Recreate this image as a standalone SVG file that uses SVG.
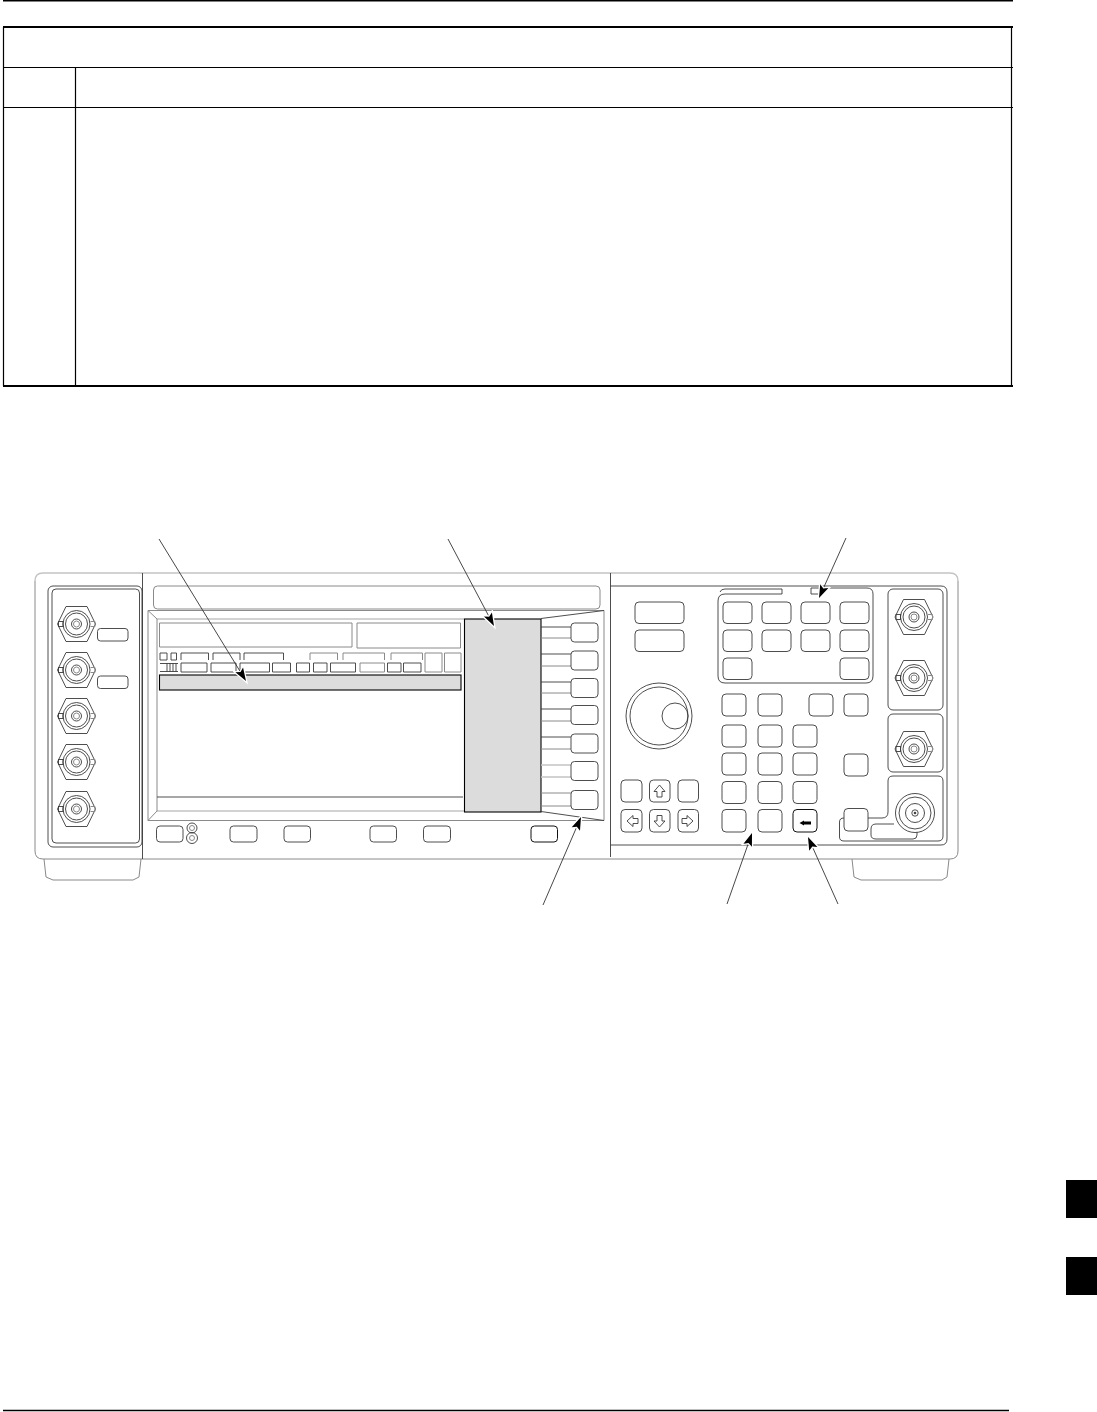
<svg xmlns="http://www.w3.org/2000/svg" xmlns:xlink="http://www.w3.org/1999/xlink" width="1097" height="1412" viewBox="0 0 1097 1412">
<style>
.t{stroke:#000;fill:none}
.l{fill:none;stroke:#3a3a3a;stroke-width:.9}
.g{fill:none;stroke:#8a8a8a;stroke-width:1}
.f{fill:none;stroke:#c4c4c4;stroke-width:1.4}
.k{fill:#fff;stroke:#3a3a3a;stroke-width:.9}
.s{fill:#dcdcdc;stroke:#000;stroke-width:1.1}
.a{fill:none;stroke:#333;stroke-width:.9;marker-end:url(#ah)}
</style>
<defs>
<marker id="ah" markerUnits="userSpaceOnUse" markerWidth="20" markerHeight="16" refX="15" refY="8" orient="auto">
<path d="M2 3.500L15 8L2 12.500L4.500 8Z" fill="#000" stroke="#fff" stroke-width="2.600" paint-order="stroke"/>
</marker>
<g id="bnc">
<path class="l" d="M-19 0L-10.500-17.500H10.500L19 0L10.500 17.500H-10.500Z"/>
<rect class="l" x="-18" y="-2.500" width="4.500" height="5"/>
<path class="g" d="M14-2.500H18.500V2.500H14"/>
<circle class="l" r="13.500"/><circle class="l" r="11"/><circle class="l" r="5"/><circle class="g" r="3"/>
</g>
</defs>
<rect width="1097" height="1412" fill="#fff"/>
<g id="page-table">
<path class="t" stroke-width="2" d="M3 0.500H1013"/>
<path class="t" stroke-width="2" d="M3 27H1013"/>
<path class="t" stroke-width="1.200" d="M3.500 27V386M1011.500 27V386M3 67.500H1013M3 107.500H1013M75.500 67V386"/>
<path class="t" stroke-width="2" d="M3 386H1013"/>
<path class="t" stroke-width="1.600" d="M3 1410.500H1009"/>
</g>
<g id="tabs">
<rect x="1066" y="1180" width="31" height="38" fill="#000"/>
<rect x="1066" y="1257" width="31" height="38" fill="#000"/>
</g>
<g id="instrument-body">
<path class="f" d="M142 573H950Q958 573 958 581"/>
<path class="f" d="M142 573H43Q35 573 35 581"/>
<path class="g" d="M35 581V851Q35 859 43 859H950Q958 859 958 851V581"/>
<path class="l" d="M142.500 573V859M610.500 573V857"/>
<path class="g" d="M44 859L46 877L53 880H133L139 877L141 859"/>
<path class="g" d="M852 859L854 877L861 880H942L947 877L949 859"/>
</g>
<g id="left-connector-panel">
<rect class="l" x="48" y="586" width="94" height="261" rx="5" />
<rect class="l" x="52" y="589" width="87.500" height="254" rx="4"/>
<use xlink:href="#bnc" href="#bnc" x="76.500" y="624"/>
<use xlink:href="#bnc" href="#bnc" x="76.500" y="670"/>
<use xlink:href="#bnc" href="#bnc" x="76.500" y="716"/>
<use xlink:href="#bnc" href="#bnc" x="76.500" y="762"/>
<use xlink:href="#bnc" href="#bnc" x="76.500" y="809"/>
<rect class="k" x="97.500" y="628.500" width="30.500" height="12.500" rx="3"/>
<rect class="k" x="97.500" y="676" width="30.500" height="12.500" rx="3"/>
</g>
<g id="display">
<rect class="g" x="153.500" y="586" width="446.500" height="23" rx="4"/>
<path class="g" d="M148 610.500H604V820.500H148Z"/>
<path class="f" d="M157 619H464M157 811H464"/>
<path class="g" d="M157 619V811M148 610.500L157 619M148 820.500L157 811"/>
<path class="g" d="M159.500 623H352V647H159.500ZM357 623H460.500V648H357Z"/>
<path class="l" d="M160 660V653H167V660ZM171 660V653H176.500V660ZM181 660V653H208.500V660M213 660V653H240V660M244 660V653H283.500V660"/>
<path class="g" d="M310 660V653H337.500V660M343 660V653H384.500V660M391 660V653H422.500V660M425 672V653H442V672ZM444.500 672V653H461V672Z"/>
<path class="l" d="M160 663.500H178M160 671.500H178M167 663.500V671.500M170 663.500V671.500M173 663.500V671.500M176 663.500V671.500"/>
<path class="l" d="M181 663H207V672H181ZM211 663H236V672H211ZM240 663H269.500V672H240ZM272.500 663H290.500V672H272.500ZM296.500 663H309.500V672H296.500ZM313.500 663H327V672H313.500ZM330.500 663H355.500V672H330.500ZM387.500 663H401V672H387.500ZM403.500 663H421V672H403.500Z"/>
<path class="g" d="M360 663H384.500V672H360Z"/>
<rect class="s" x="159.500" y="675" width="301.500" height="15"/>
<path class="l" d="M157 797H463"/>
<rect class="s" x="464.500" y="619" width="76.500" height="193"/>
</g>
<g id="softkeys">
<path class="l" d="M541 618.500L604 610.500M541 811.500L604 820.500"/>
<path class="l" d="M541 627H571M541 654H571M541 682H571M541 709H571M541 737H571"/>
<path class="g" d="M541 638H571M541 666H571M541 693H571M541 721H571M541 749H571M541 793H571M541 806H571"/>
<path class="f" d="M541 765H571M541 777H571"/>
<rect class="k" x="571" y="623" width="27" height="19" rx="3.500"/>
<rect class="k" x="571" y="651" width="27" height="19" rx="3.500"/>
<rect class="k" x="571" y="678.500" width="27" height="19" rx="3.500"/>
<rect class="k" x="571" y="705.500" width="27" height="19" rx="3.500"/>
<rect class="k" x="571" y="734" width="27" height="19" rx="3.500"/>
<rect class="k" x="571" y="761.500" width="27" height="19" rx="3.500"/>
<rect class="k" x="571" y="790.500" width="27" height="19" rx="3.500"/>
</g>
<g id="lower-display-keys">
<rect class="k" x="156.500" y="826" width="26.500" height="16" rx="3.500"/>
<circle class="l" cx="192" cy="828" r="5"/><circle class="l" cx="192" cy="838" r="5.500"/><circle class="g" cx="192" cy="828" r="2.500"/><circle class="g" cx="192" cy="838" r="2.500"/>
<rect class="k" x="230" y="826" width="27" height="16" rx="3.500"/>
<rect class="k" x="284" y="826" width="26.500" height="16" rx="3.500"/>
<rect class="k" x="370" y="826" width="26.500" height="16" rx="3.500"/>
<rect class="k" x="423.500" y="826" width="27" height="16" rx="3.500"/>
<rect x="531" y="826" width="26.500" height="16" rx="3.500" fill="#fff" stroke="#111" stroke-width="1"/>
</g>
<g id="right-panel">
<path class="l" d="M610.500 586H941Q947 586 947 592V839Q947 845 941 845H610.500"/>
<path class="l" d="M782 594H725Q718 594 718 601V676Q718 683 725 683H866Q873 683 873 676V594Q873 588 867 588H811V594H819M782 594V589H725Q721 589 720 592"/>
<rect class="l" x="635" y="602" width="49" height="21.500" rx="4"/>
<rect class="l" x="635" y="630" width="49" height="21.500" rx="4"/>
<circle class="l" cx="659" cy="716" r="33"/><circle class="l" cx="659" cy="716" r="29"/><circle class="l" cx="675" cy="716" r="13"/>
</g>
<g id="function-keys">
<rect class="k" x="723" y="602" width="29" height="21.500" rx="4"/>
<rect class="k" x="762" y="602" width="29" height="21.500" rx="4"/>
<rect class="k" x="801" y="602" width="29" height="21.500" rx="4"/>
<rect class="k" x="840" y="602" width="29" height="21.500" rx="4"/>
<rect class="k" x="723" y="630" width="29" height="21.500" rx="4"/>
<rect class="k" x="762" y="630" width="29" height="21.500" rx="4"/>
<rect class="k" x="801" y="630" width="29" height="21.500" rx="4"/>
<rect class="k" x="840" y="630" width="29" height="21.500" rx="4"/>
<rect class="k" x="723" y="658" width="29" height="21.500" rx="4"/>
<rect class="k" x="840" y="658" width="29" height="21.500" rx="4"/>
</g>
<g id="numeric-keypad">
<rect class="k" x="722" y="694" width="24" height="22" rx="4"/>
<rect class="k" x="758" y="694" width="24" height="22" rx="4"/>
<rect class="k" x="809" y="694" width="24" height="22" rx="4"/>
<rect class="k" x="844" y="694" width="24" height="22" rx="4"/>
<rect class="k" x="722" y="725" width="24" height="22" rx="4"/>
<rect class="k" x="758" y="725" width="24" height="22" rx="4"/>
<rect class="k" x="793" y="725" width="24" height="22" rx="4"/>
<rect class="k" x="722" y="753" width="24" height="22" rx="4"/>
<rect class="k" x="758" y="753" width="24" height="22" rx="4"/>
<rect class="k" x="793" y="753" width="24" height="22" rx="4"/>
<rect class="k" x="844" y="754" width="24" height="22" rx="4"/>
<rect class="k" x="722" y="781.500" width="24" height="22" rx="4"/>
<rect class="k" x="758" y="781.500" width="24" height="22" rx="4"/>
<rect class="k" x="793" y="781.500" width="24" height="22" rx="4"/>
<rect class="k" x="722" y="809.500" width="24" height="22.500" rx="4"/>
<rect class="k" x="758" y="809.500" width="24" height="22.500" rx="4"/>
<rect x="793" y="809.500" width="24" height="22.500" rx="4" fill="#fff" stroke="#111" stroke-width="1"/>
<path d="M799.500 823L804 820.500V821.500H811V824.500H804V825.500Z" fill="#000"/>
</g>
<g id="arrow-keys">
<rect class="k" x="621" y="780" width="21" height="22" rx="4"/>
<rect class="k" x="649.500" y="780" width="20.500" height="22" rx="4"/>
<rect class="k" x="678" y="780" width="20.500" height="22" rx="4"/>
<rect class="k" x="621" y="809.500" width="21" height="22.500" rx="4"/>
<rect class="k" x="649.500" y="809.500" width="20.500" height="22.500" rx="4"/>
<rect class="k" x="678" y="809.500" width="20.500" height="22.500" rx="4"/>
<path class="l" d="M659.500 785L665 791.500H662V797H657V791.500H654Z"/>
<path class="l" d="M627 821L633 815.500V818.500H638V823.500H633V826.500Z"/>
<path class="l" d="M659.500 827L665 821H662V815.500H657V821H654Z"/>
<path class="l" d="M693 821L687 815.500V818.500H682V823.500H687V826.500Z"/>
</g>
<g id="right-connectors">
<rect class="l" x="888" y="589" width="55" height="121" rx="5"/>
<rect class="l" x="888" y="714" width="55" height="58" rx="5"/>
<use xlink:href="#bnc" href="#bnc" x="914" y="617"/>
<use xlink:href="#bnc" href="#bnc" x="914" y="678"/>
<use xlink:href="#bnc" href="#bnc" x="914" y="749"/>
<path class="l" d="M868 818H882Q888 818 888 812V781Q888 776 893 776H938Q943 776 943 781V836Q943 841 938 841H844Q839.500 841 839.500 837V822Q839.500 818 844 818"/>
<rect class="k" x="844" y="808.500" width="24" height="22.500" rx="4"/>
<path class="l" d="M894 824H876Q871 824 871 829V835Q871 839 876 839H913Q917 839 917 835V832"/>
<circle class="k" cx="915" cy="813" r="19.500"/><circle class="l" cx="915" cy="813" r="16"/><circle class="l" cx="915" cy="813" r="9.500"/><circle class="l" cx="915" cy="813" r="3.200"/><circle cx="915" cy="813" r="1.300" fill="#444"/>
</g>
<g id="connectors">
<path class="a" d="M159 539L246 681"/>
<path class="a" d="M448 539L494 626"/>
<path class="a" d="M846 538L819 598"/>
<path class="a" d="M543 905L581 817"/>
<path class="a" d="M727 904L752 833"/>
<path class="a" d="M838 904L808 837"/>
</g>
</svg>
